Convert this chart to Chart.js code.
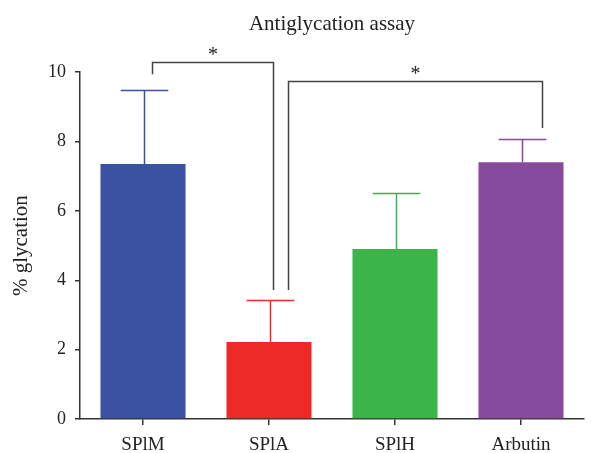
<!DOCTYPE html>
<html>
<head>
<meta charset="utf-8">
<script src="https://cdn.jsdelivr.net/npm/chart.js@4.4.0/dist/chart.umd.min.js"></script>
<style>
  html, body { margin: 0; padding: 0; background: #fff; }
</style>
</head>
<body>
<canvas id="chart" width="603" height="453"></canvas>
<script>
// data
const categories = ["SPlM", "SPlA", "SPlH", "Arbutin"];
const glycation = [7.35, 2.22, 4.9, 7.4];
const errors = [2.13, 1.21, 1.61, 0.67];
const barColors = ["#3a52a1", "#ed2a27", "#3bb54a", "#884a9c"];

// significance brackets: from bar, to bar, bar level, left foot, right foot
const bracketPairs = [[0, 1], [1, 3]];
const bracketLevels = [10.29, 9.75];
const bracketFeet = [[9.94, 3.72], [3.72, 8.39]];

const serif = "'Liberation Serif', 'DejaVu Serif', serif";
const ink = "#333";

// error bars (upper half only, like the original)
const errorBars = {
  id: "errorBars",
  afterDatasetsDraw(chart) {
    const ctx = chart.ctx;
    const y = chart.scales.y;
    const meta = chart.getDatasetMeta(0);
    ctx.save();
    ctx.lineWidth = 1.5;
    meta.data.forEach((bar, i) => {
      const top = Math.round(y.getPixelForValue(glycation[i] + errors[i])) + 0.5;
      const half = bar.width * 0.28;
      const cx = Math.round(bar.x) + 1.5;
      ctx.strokeStyle = barColors[i];
      ctx.beginPath();
      ctx.moveTo(cx, bar.y);
      ctx.lineTo(cx, top);
      ctx.moveTo(cx - half, top);
      ctx.lineTo(cx + half, top);
      ctx.stroke();
    });
    ctx.restore();
  }
};

// brackets with asterisks
const footShift = [[0.07, 0.03], [0.15, 0.17]];
const brackets = {
  id: "brackets",
  afterDraw(chart) {
    const ctx = chart.ctx;
    const x = chart.scales.x;
    const y = chart.scales.y;
    const step = x.getPixelForValue(1) - x.getPixelForValue(0);
    ctx.save();
    ctx.strokeStyle = "#444";
    ctx.lineWidth = 1.5;
    ctx.fillStyle = "#222";
    ctx.font = "20px " + serif;
    ctx.textAlign = "center";
    ctx.textBaseline = "middle";
    bracketPairs.forEach((p, i) => {
      const x1 = Math.round(x.getPixelForValue(p[0]) + footShift[i][0] * step) + 0.5;
      const x2 = Math.round(x.getPixelForValue(p[1]) + footShift[i][1] * step) + 0.5;
      const yl = Math.round(y.getPixelForValue(bracketLevels[i])) + 0.5;
      ctx.beginPath();
      ctx.moveTo(x1, y.getPixelForValue(bracketFeet[i][0]));
      ctx.lineTo(x1, yl);
      ctx.lineTo(x2, yl);
      ctx.lineTo(x2, y.getPixelForValue(bracketFeet[i][1]));
      ctx.stroke();
      ctx.fillText("*", (x1 + x2) / 2, yl - 7);
    });
    ctx.restore();
  }
};

new Chart(document.getElementById("chart"), {
  type: "bar",
  data: {
    labels: categories,
    datasets: [{
      data: glycation,
      backgroundColor: barColors,
      borderWidth: 0,
      categoryPercentage: 1,
      barPercentage: 0.675
    }]
  },
  options: {
    responsive: false,
    animation: false,
    layout: { padding: { left: 0, right: 19, top: 0, bottom: 0 } },
    plugins: {
      legend: { display: false },
      tooltip: { enabled: false },
      title: {
        display: true,
        fullSize: false,
        text: "Antiglycation assay",
        color: "#222",
        font: { family: serif, size: 21, weight: "normal" },
        padding: { top: 12, bottom: 35 }
      }
    },
    scales: {
      x: {
        afterFit: (s) => { s.height = 34; },
        border: { color: ink, width: 1.5 },
        grid: { drawOnChartArea: false, drawTicks: true, tickLength: 6, color: ink, lineWidth: 1.5, offset: false },
        ticks: { color: "#222", padding: 9, font: { family: serif, size: 19 } }
      },
      y: {
        min: 0,
        max: 10,
        afterFit: (s) => { s.width = 80; },
        border: { color: ink, width: 1.5 },
        grid: { drawOnChartArea: false, drawTicks: true, tickLength: 5, color: ink, lineWidth: 1.5 },
        ticks: { stepSize: 2, color: "#222", padding: 9, font: { family: serif, size: 18 } },
        title: {
          display: true,
          text: "% glycation",
          color: "#222",
          font: { family: serif, size: 21 },
          padding: { top: 9, bottom: 0 }
        }
      }
    }
  },
  plugins: [errorBars, brackets]
});
</script>
</body>
</html>
